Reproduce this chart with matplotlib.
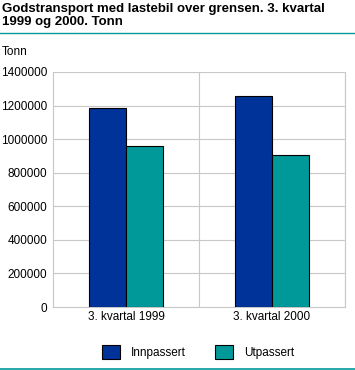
import numpy as np
import matplotlib.pyplot as plt
from matplotlib.lines import Line2D
from matplotlib.patches import Patch

plt.rcParams['font.family'] = ['Liberation Sans', 'DejaVu Sans']

categories = ["3. kvartal 1999", "3. kvartal 2000"]
innpassert = [1183000, 1255000]
utpassert = [957000, 907000]
yticks = [0, 200000, 400000, 600000, 800000, 1000000, 1200000, 1400000]

blue = "#003399"
teal = "#009999"
grid = "#c8c8c8"

fig = plt.figure(figsize=(3.55, 3.7), dpi=100)
ax = fig.add_axes([53/355, 1-307/370, 292/355, 235/370])

x = np.arange(len(categories))
w = 0.255
ax.bar(x - w/2, innpassert, w, color=blue, edgecolor="black", linewidth=0.8, zorder=3)
ax.bar(x + w/2, utpassert, w, color=teal, edgecolor="black", linewidth=0.8, zorder=3)

ax.set_xlim(-0.5, len(categories) - 0.5)
ax.set_ylim(0, 1400000)
ax.set_yticks(yticks)
ax.set_yticklabels([str(v) for v in yticks])
ax.set_xticks(x)
ax.set_xticklabels(categories)
ax.set_xticks(np.arange(len(categories)) + 0.5, minor=True)
ax.grid(axis="y", color=grid, linewidth=0.8, zorder=0)
ax.grid(axis="x", which="minor", color=grid, linewidth=0.8, zorder=0)
ax.tick_params(axis="both", which="both", length=0, labelsize=8.5, colors="black")
ax.tick_params(axis="y", pad=4)
ax.tick_params(axis="x", pad=3)
ax.spines["top"].set_visible(False)
for s in ["left", "bottom", "right"]:
    ax.spines[s].set_color(grid)
    ax.spines[s].set_linewidth(0.8)

fig.text(2/355, 1-3/370, "Godstransport med lastebil over grensen. 3. kvartal\n1999 og 2000. Tonn",
         ha="left", va="top", fontsize=9.5, fontweight="bold", linespacing=1.15)
fig.add_artist(Line2D([0, 1], [1-33/370, 1-33/370], color=teal, linewidth=1))
fig.add_artist(Line2D([0, 1], [1-369/370, 1-369/370], color=teal, linewidth=1.2))
fig.text(2/355, 1-52/370, "Tonn", ha="left", va="center", fontsize=8.5)

handles = [Patch(facecolor=blue, edgecolor="black", linewidth=0.8),
           Patch(facecolor=teal, edgecolor="black", linewidth=0.8)]
fig.legend(handles, ["Innpassert", "Utpassert"], loc="center", bbox_to_anchor=(198/355, 1-352/370),
           ncol=2, frameon=False, fontsize=8.5, handlelength=1.5, handleheight=1.5,
           columnspacing=2.5, handletextpad=0.95, borderpad=0)

fig.savefig("out.png", dpi=100)
